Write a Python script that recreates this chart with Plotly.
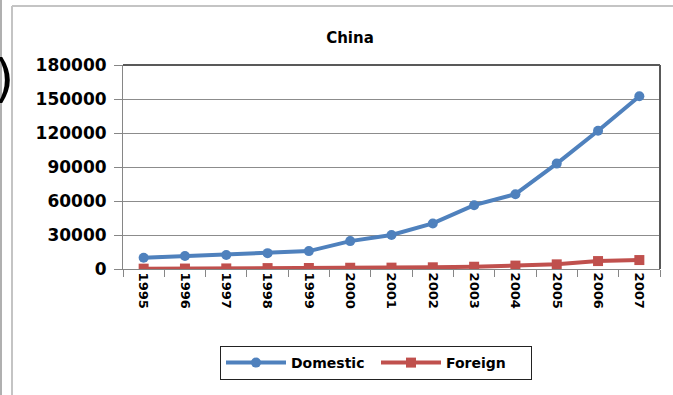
import plotly.graph_objects as go

years = ["1995", "1996", "1997", "1998", "1999", "2000", "2001",
         "2002", "2003", "2004", "2005", "2006", "2007"]
domestic = [10000, 11500, 12300, 14000, 15800, 24600, 30000,
            40200, 56300, 66000, 93000, 122000, 152500]
foreign = [300, 400, 500, 800, 900, 1100, 1200,
           1500, 2000, 3000, 4100, 7000, 7900]
y_ticks = [0, 30000, 60000, 90000, 120000, 150000, 180000]

BLUE = "#4F81BD"
RED = "#C0504D"
FONT = "DejaVu Sans"

fig = go.Figure()
fig.add_trace(go.Scatter(
    x=years, y=domestic, name="Domestic", mode="lines+markers",
    line=dict(color=BLUE, width=4),
    marker=dict(symbol="circle", size=10, color=BLUE),
))
fig.add_trace(go.Scatter(
    x=years, y=foreign, name="Foreign", mode="lines+markers",
    line=dict(color=RED, width=4),
    marker=dict(symbol="square", size=10, color=RED),
))

L, R, T, B = 123, 13, 65, 126
W, H = 673, 395
pw, ph = W - L - R, H - T - B

def px(x):
    return (x - L) / pw

def py(y):
    return (H - B - y) / ph

fig.update_layout(
    width=W, height=H,
    margin=dict(l=L, r=R, t=T, b=B),
    paper_bgcolor="white",
    plot_bgcolor="white",
    title=dict(text="China", xref="container", x=350 / W, xanchor="center",
               yref="container", y=1 - 38 / H, yanchor="middle",
               font=dict(family=FONT, size=15, color="black", weight="bold")),
    xaxis=dict(
        type="category", tickangle=90, tickson="boundaries",
        ticks="outside", ticklen=7, tickcolor="#868686",
        showgrid=False, showline=True, linecolor="#868686", linewidth=1,
        mirror=False,
        tickfont=dict(family=FONT, size=13, color="black", weight="bold"),
        range=[-0.5, len(years) - 0.5],
    ),
    yaxis=dict(
        range=[0, 180000], tickvals=y_ticks,
        ticktext=[str(v) for v in y_ticks],
        ticks="outside", ticklen=8, tickcolor="#868686",
        showgrid=True, gridcolor="#8C8C8C", gridwidth=1,
        showline=True, linecolor="#868686", linewidth=1,
        zeroline=False,
        ticklabelstandoff=4,
        tickfont=dict(family=FONT, size=17, color="black", weight="bold"),
    ),
    showlegend=True,
    legend=dict(
        orientation="h", x=px(376), xanchor="center",
        y=py(363), yanchor="middle",
        bordercolor="#222222", borderwidth=1, bgcolor="white",
        font=dict(family=FONT, size=14, color="black", weight="bold"),
        itemwidth=60,
        entrywidth=80,
    ),
    shapes=[
        dict(type="line", xref="paper", yref="paper", x0=0, x1=1, y0=1, y1=1,
             line=dict(color="#595959", width=2)),
        dict(type="line", xref="paper", yref="paper", x0=1, x1=1, y0=0, y1=1,
             line=dict(color="#595959", width=2)),
        dict(type="line", xref="paper", yref="paper", x0=px(12), x1=px(12),
             y0=py(6), y1=py(400), line=dict(color="#C4C4C4", width=2)),
        dict(type="line", xref="paper", yref="paper", x0=px(1), x1=px(1),
             y0=py(-5), y1=py(400), line=dict(color="#B0B0B0", width=2)),
        dict(type="line", xref="paper", yref="paper", x0=px(12), x1=px(680),
             y0=py(6), y1=py(6), line=dict(color="#C4C4C4", width=2)),
    ],
    annotations=[
        dict(text=")", xref="paper", yref="paper", x=px(-8), y=py(78),
             xanchor="left", yanchor="middle", showarrow=False,
             font=dict(family=FONT, size=52, color="black")),
    ],
)

fig.write_html("out.html")
